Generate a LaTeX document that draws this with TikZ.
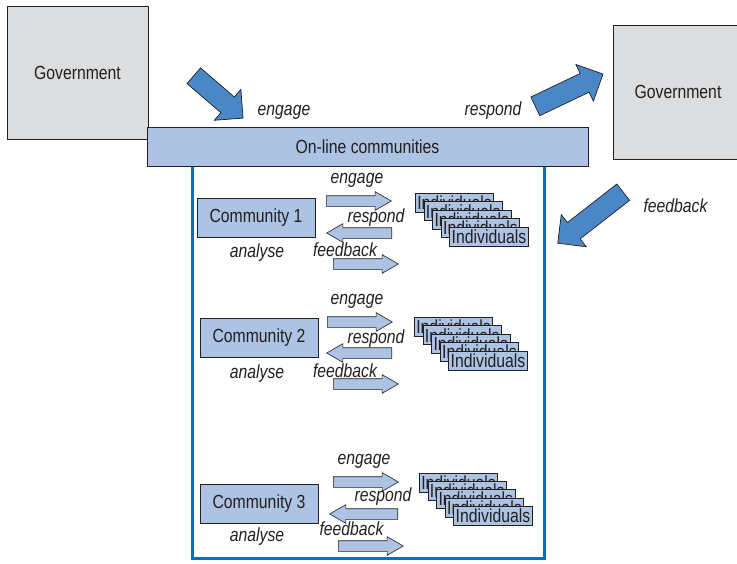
\documentclass[tikz,border=0pt]{standalone}
\usepackage{fontspec}
\setmainfont[FakeStretch=0.83]{Liberation Sans}
\usetikzlibrary{shapes.arrows}
\definecolor{govgray}{HTML}{DCDDDF}
\definecolor{comblue}{HTML}{ADC3E4}
\definecolor{arrblue}{HTML}{4A87C7}
\definecolor{frameblue}{HTML}{0A6EBD}
\definecolor{inkgray}{HTML}{231F20}

\begin{document}
\begin{tikzpicture}[
	x=1pt,y=-1pt,
	every node/.style={font=\fontsize{19}{22}\selectfont,text=inkgray},
	lbl/.style={font=\fontsize{19}{22}\selectfont\itshape},
	govbox/.style={draw=inkgray,fill=govgray,line width=0.8pt},
	combox/.style={draw=inkgray,fill=comblue,line width=0.8pt,minimum width=118pt,minimum height=39pt},
	indbox/.style={draw=inkgray,fill=comblue,line width=0.8pt,inner xsep=2pt,inner ysep=1pt,minimum height=19pt},
	bigarrow/.style={single arrow,draw=inkgray,fill=arrblue,line width=0.7pt,inner xsep=0pt,inner ysep=10pt,
		single arrow head extend=10pt,single arrow tip angle=90,anchor=tail},
	smallarrow/.style={single arrow,draw=inkgray,fill=comblue,line width=0.6pt,inner xsep=0pt,inner ysep=5pt,
		single arrow head extend=4pt,single arrow tip angle=60,minimum height=65pt,anchor=tail}]
\useasboundingbox (0,0) rectangle (737,563);

% governments and the on-line layer
\node[govbox,minimum width=141pt,minimum height=133pt] (govleft) at (77.5,72.5) {Government};
\node[govbox,minimum width=130pt,minimum height=134pt] (govright) at (678,92) {Government};
\draw[frameblue,line width=3pt] (192,150) rectangle (544,558);
\node[combox,minimum width=441pt,minimum height=39pt] (online) at (367.5,146.5) {On-line communities};

% big arrows
\node[bigarrow,rotate=-40.7,minimum height=65pt] (engagebig) at (193.5,75.5) {};
\node[bigarrow,rotate=25.5,minimum height=75pt] (respondbig) at (535,106.5) {};
\node[bigarrow,rotate=217.9,minimum height=83pt] (feedbackbig) at (623.5,192) {};
\node[lbl] (engagetop) at (284,112) {engage};
\node[lbl] (respondtop) at (493,111) {respond};
\node[lbl] (feedbacktop) at (675.5,206) {feedback};

% communities
\node[combox] (com1) at (256,217.5) {Community 1};
\node[combox] (com2) at (259,337.5) {Community 2};
\node[combox] (com3) at (259,503.5) {Community 3};

\node[lbl] (ana1) at (257,253) {analyse};
\node[lbl] (ana2) at (257,374) {analyse};
\node[lbl] (ana3) at (257,537) {analyse};

% small arrows
\node[smallarrow] (eng1) at (326,201) {};
\node[smallarrow,shape border rotate=180] (res1) at (392,233) {};
\node[smallarrow] (fee1) at (333,264) {};
\node[smallarrow] (eng2) at (327,322) {};
\node[smallarrow,shape border rotate=180] (res2) at (392,353) {};
\node[smallarrow] (fee2) at (333,384) {};
\node[smallarrow] (eng3) at (333,482) {};
\node[smallarrow,shape border rotate=180,minimum height=68pt] (res3) at (398,514) {};
\node[smallarrow] (fee3) at (338,546) {};

\node[lbl] (englbl1) at (357,180) {engage};
\node[lbl] (reslbl1) at (376,218) {respond};
\node[lbl] (feelbl1) at (345,250) {feedback};
\node[lbl] (englbl2) at (357,301) {engage};
\node[lbl] (reslbl2) at (376,339) {respond};
\node[lbl] (feelbl2) at (345,371) {feedback};
\node[lbl] (englbl3) at (364,461) {engage};
\node[lbl] (reslbl3) at (383,497) {respond};
\node[lbl] (feelbl3) at (351.5,529) {feedback};

% stacks of individuals
\foreach \s/\fx/\fy in {1/489/236.5,2/488/360.5,3/493/516}
	\foreach \i in {4,...,0}
		\node[indbox] (ind\s\i) at ({\fx-\i*8.6},{\fy-\i*8.4}) {Individuals};
\end{tikzpicture}
\end{document}
